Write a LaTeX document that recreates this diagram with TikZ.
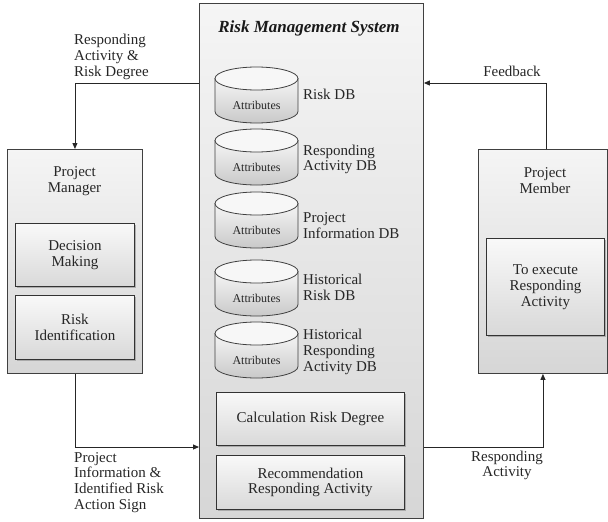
\documentclass[tikz,border=0pt]{standalone}
\usepackage{fontspec}
\setmainfont{Liberation Serif}
\usetikzlibrary{arrows.meta,shadows}

% database cylinder: #1 name, #2 top y, #3 label, #4 label centre y
\newcommand\dbcyl[4]{%
  \path[draw=black!75, line width=0.8pt, top color=gray!8, bottom color=gray!42]
    (215,-#2-11.5) -- (215,-#2-44.5)
    arc[start angle=180, end angle=360, x radius=41.5, y radius=11.5]
    -- (298,-#2-11.5) -- cycle;
  \path[draw=black!75, line width=0.8pt, fill=gray!6]
    (256.5,-#2-11.5) ellipse[x radius=41.5, y radius=11.5];
  \node[attrtxt] (#1) at (256.5,-#2-38) {Attributes};
  \node[txt, anchor=west, align=left] (#1-name) at (302,-#4) {#3};
}

\begin{document}
\begin{tikzpicture}[x=1pt, y=1pt,
  txt/.style={font=\fontsize{15}{15.8}\selectfont, text=black!85, inner sep=1pt},
  attrtxt/.style={font=\fontsize{12}{13}\selectfont, text=black!85},
  titletxt/.style={font=\fontsize{17}{19}\selectfont\bfseries\itshape, text=black!90},
  panel/.style={draw=black!75, line width=0.9pt, top color=gray!8, bottom color=gray!32,
    anchor=north west, inner sep=0pt},
  innerbox/.style={draw=black!80, line width=0.9pt, top color=gray!5, bottom color=gray!30,
    anchor=north west, inner sep=0pt, align=center, txt,
    drop shadow={shadow xshift=1.2pt, shadow yshift=-1.2pt, fill=black!45, opacity=0.6}},
  arr/.style={draw=black!85, line width=0.9pt, -{Triangle[length=6pt, width=5pt]}}
]
\useasboundingbox (0,0) rectangle (608,-522);

% central system panel
\node[panel, minimum width=224pt, minimum height=515pt] (rms) at (199,-3) {};
\node[titletxt] (rmstitle) at (309,-28) {Risk Management System};

\dbcyl{db1}{67}{Risk DB}{94}
\dbcyl{db2}{129}{Responding\\Activity DB}{159.5}
\dbcyl{db3}{192}{Project\\Information DB}{225.5}
\dbcyl{db4}{260}{Historical\\Risk DB}{287.5}
\dbcyl{db5}{322}{Historical\\Responding\\Activity DB}{352}

\node[innerbox, minimum width=188pt, minimum height=53pt] (calc) at (216,-392) {};
\node[txt] (calctxt) at (calc.center) {Calculation Risk Degree};
\node[innerbox, minimum width=188pt, minimum height=54pt] (rec) at (216,-455) {};
\node[txt, align=center] (rectxt) at (rec.center) {Recommendation\\Responding Activity};

% project manager
\node[panel, minimum width=135pt, minimum height=224pt] (pm) at (7,-149) {};
\node[txt, align=center] (pmtitle) at (74.5,-181) {Project\\Manager};
\node[innerbox, minimum width=119pt, minimum height=63pt] (dm) at (15,-223) {};
\node[txt, align=center] (dmtxt) at (dm.center) {Decision\\Making};
\node[innerbox, minimum width=119pt, minimum height=64pt] (ri) at (15,-295) {};
\node[txt, align=center] (ritxt) at (ri.center) {Risk\\Identification};

% project member
\node[panel, minimum width=129pt, minimum height=224pt] (pmem) at (478,-149) {};
\node[txt, align=center] (pmemtitle) at (545,-181) {Project\\Member};
\node[innerbox, minimum width=118pt, minimum height=97pt] (exec) at (486,-238) {};
\node[txt, align=center] (exectxt) at (exec.center) {To execute\\Responding\\Activity};

% flows
\draw[arr] (rms.west |- 0,-83) -| (pm.north);
\node[txt, align=left, anchor=west] (l1) at (73,-57) {Responding\\Activity \&\\Risk Degree};

\draw[arr] ([xshift=3pt]pmem.north) |- (rms.east |- 0,-83);
\node[txt] (l2) at (512,-71) {Feedback};

\draw[arr] (pm.south) |- (rms.west |- 0,-447);
\node[txt, align=left, anchor=west] (l3) at (73,-482.5) {Project\\Information \&\\Identified Risk\\Action Sign};

\draw[arr] (rms.east |- 0,-447) -| (pmem.south);
\node[txt, align=center] (l4) at (507,-465.5) {Responding\\Activity};
\end{tikzpicture}
\end{document}
